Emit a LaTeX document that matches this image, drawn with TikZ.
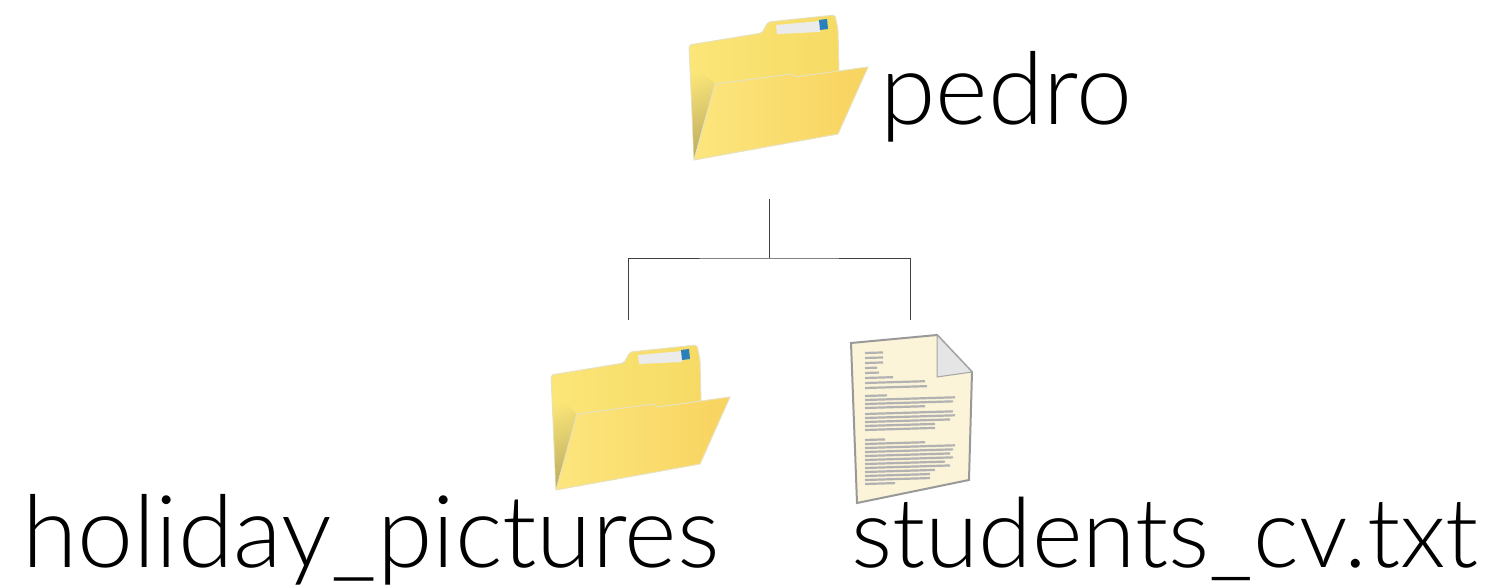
\documentclass[tikz,border=0pt]{standalone}
\usepackage{fontspec}
\setmainfont[UprightFont=* Light]{Lato}
\usetikzlibrary{positioning}
\definecolor{folderback}{HTML}{FBE678}
\definecolor{folderside}{HTML}{F6DA64}
\definecolor{folderdark}{HTML}{BFAE62}
\definecolor{folderfront}{HTML}{FCE67E}
\definecolor{folderdeep}{HTML}{F8D35F}
\definecolor{folderedge}{HTML}{E8E2BC}
\definecolor{paper}{HTML}{FBF4D8}
\tikzset{
  label text/.style={inner sep=0pt, anchor=base west, font=\fontsize{100.5}{100}\selectfont},
  file text/.style={label text, font=\fontsize{96.8}{100}\selectfont},
  tree line/.style={draw=black!75, line width=.8pt},
  folder/.pic={
    \draw[folderedge, line width=1pt, rounded corners=2pt, left color=folderback, right color=folderside]
      (19,-45) -- (92,-33) -- (98,-22) -- (165,-15) -- (168,-30) -- (169,-72) -- (60,-120) -- (24,-160) -- cycle;
    \shade[top color=folderback, bottom color=folderdark, shading angle=20] (20.5,-62) -- (45,-84) -- (24,-159) -- cycle;
    \fill[black!8] (106,-25) -- (150,-21) -- (150,-32) -- (107,-34) -- cycle;
    \fill[cyan!70!blue!85!black] (149,-20) -- (157,-19) -- (158,-29) -- (150,-30) -- cycle;
    \draw[folderedge, line width=1pt, left color=folderfront, right color=folderdeep]
      (45,-84) -- (122,-74) -- (125,-77) -- (198,-67) -- (168,-134) -- (24,-160) -- cycle;
  }
}
\begin{document}
\begin{tikzpicture}[x=1pt,y=1pt]
   \useasboundingbox (0,0) rectangle (1500,-585);
   \node[label text] (P) at (880,-125) {pedro};
   \node[label text] (H) at (22,-567) {holiday\_pictures};
   \node[file text] (S) at (851,-567) {students\_cv.txt};

   \coordinate (top) at (769,-199);
   \coordinate (mid) at (769,-258);
   \coordinate (left) at (628,-320);
   \coordinate (right) at (910,-320);
   \draw[tree line] (top) -- (mid);
   \draw[tree line] (left) |- (mid) -| (right);

   \pic at (670,0) {folder};
   \pic at (532,-330) {folder};

   \draw[black!40, line width=2pt, fill=paper] (851,-343) -- (937,-335) -- (972,-372) -- (969,-480) -- (857,-503) -- cycle;
   \draw[black!35, line width=1pt, fill=black!10] (937,-335) -- (937,-377) -- (972,-372) -- cycle;
   \foreach \y/\w in {353/18,358/18,363/18,368/12,373/14,378/28,383/60,388/62,
                      396/22,400/90,404/88,408/60,
                      414/88,418/90,422/85,426/70,430/70,
                      440/20,444/60,448/90,452/88,456/85,460/88,464/80,468/85,472/70,476/65,480/65,484/30}
   \draw[black!30, line width=2.2pt] (865,-\y) --++ (\w,\w*.03);
\end{tikzpicture}
\end{document}
